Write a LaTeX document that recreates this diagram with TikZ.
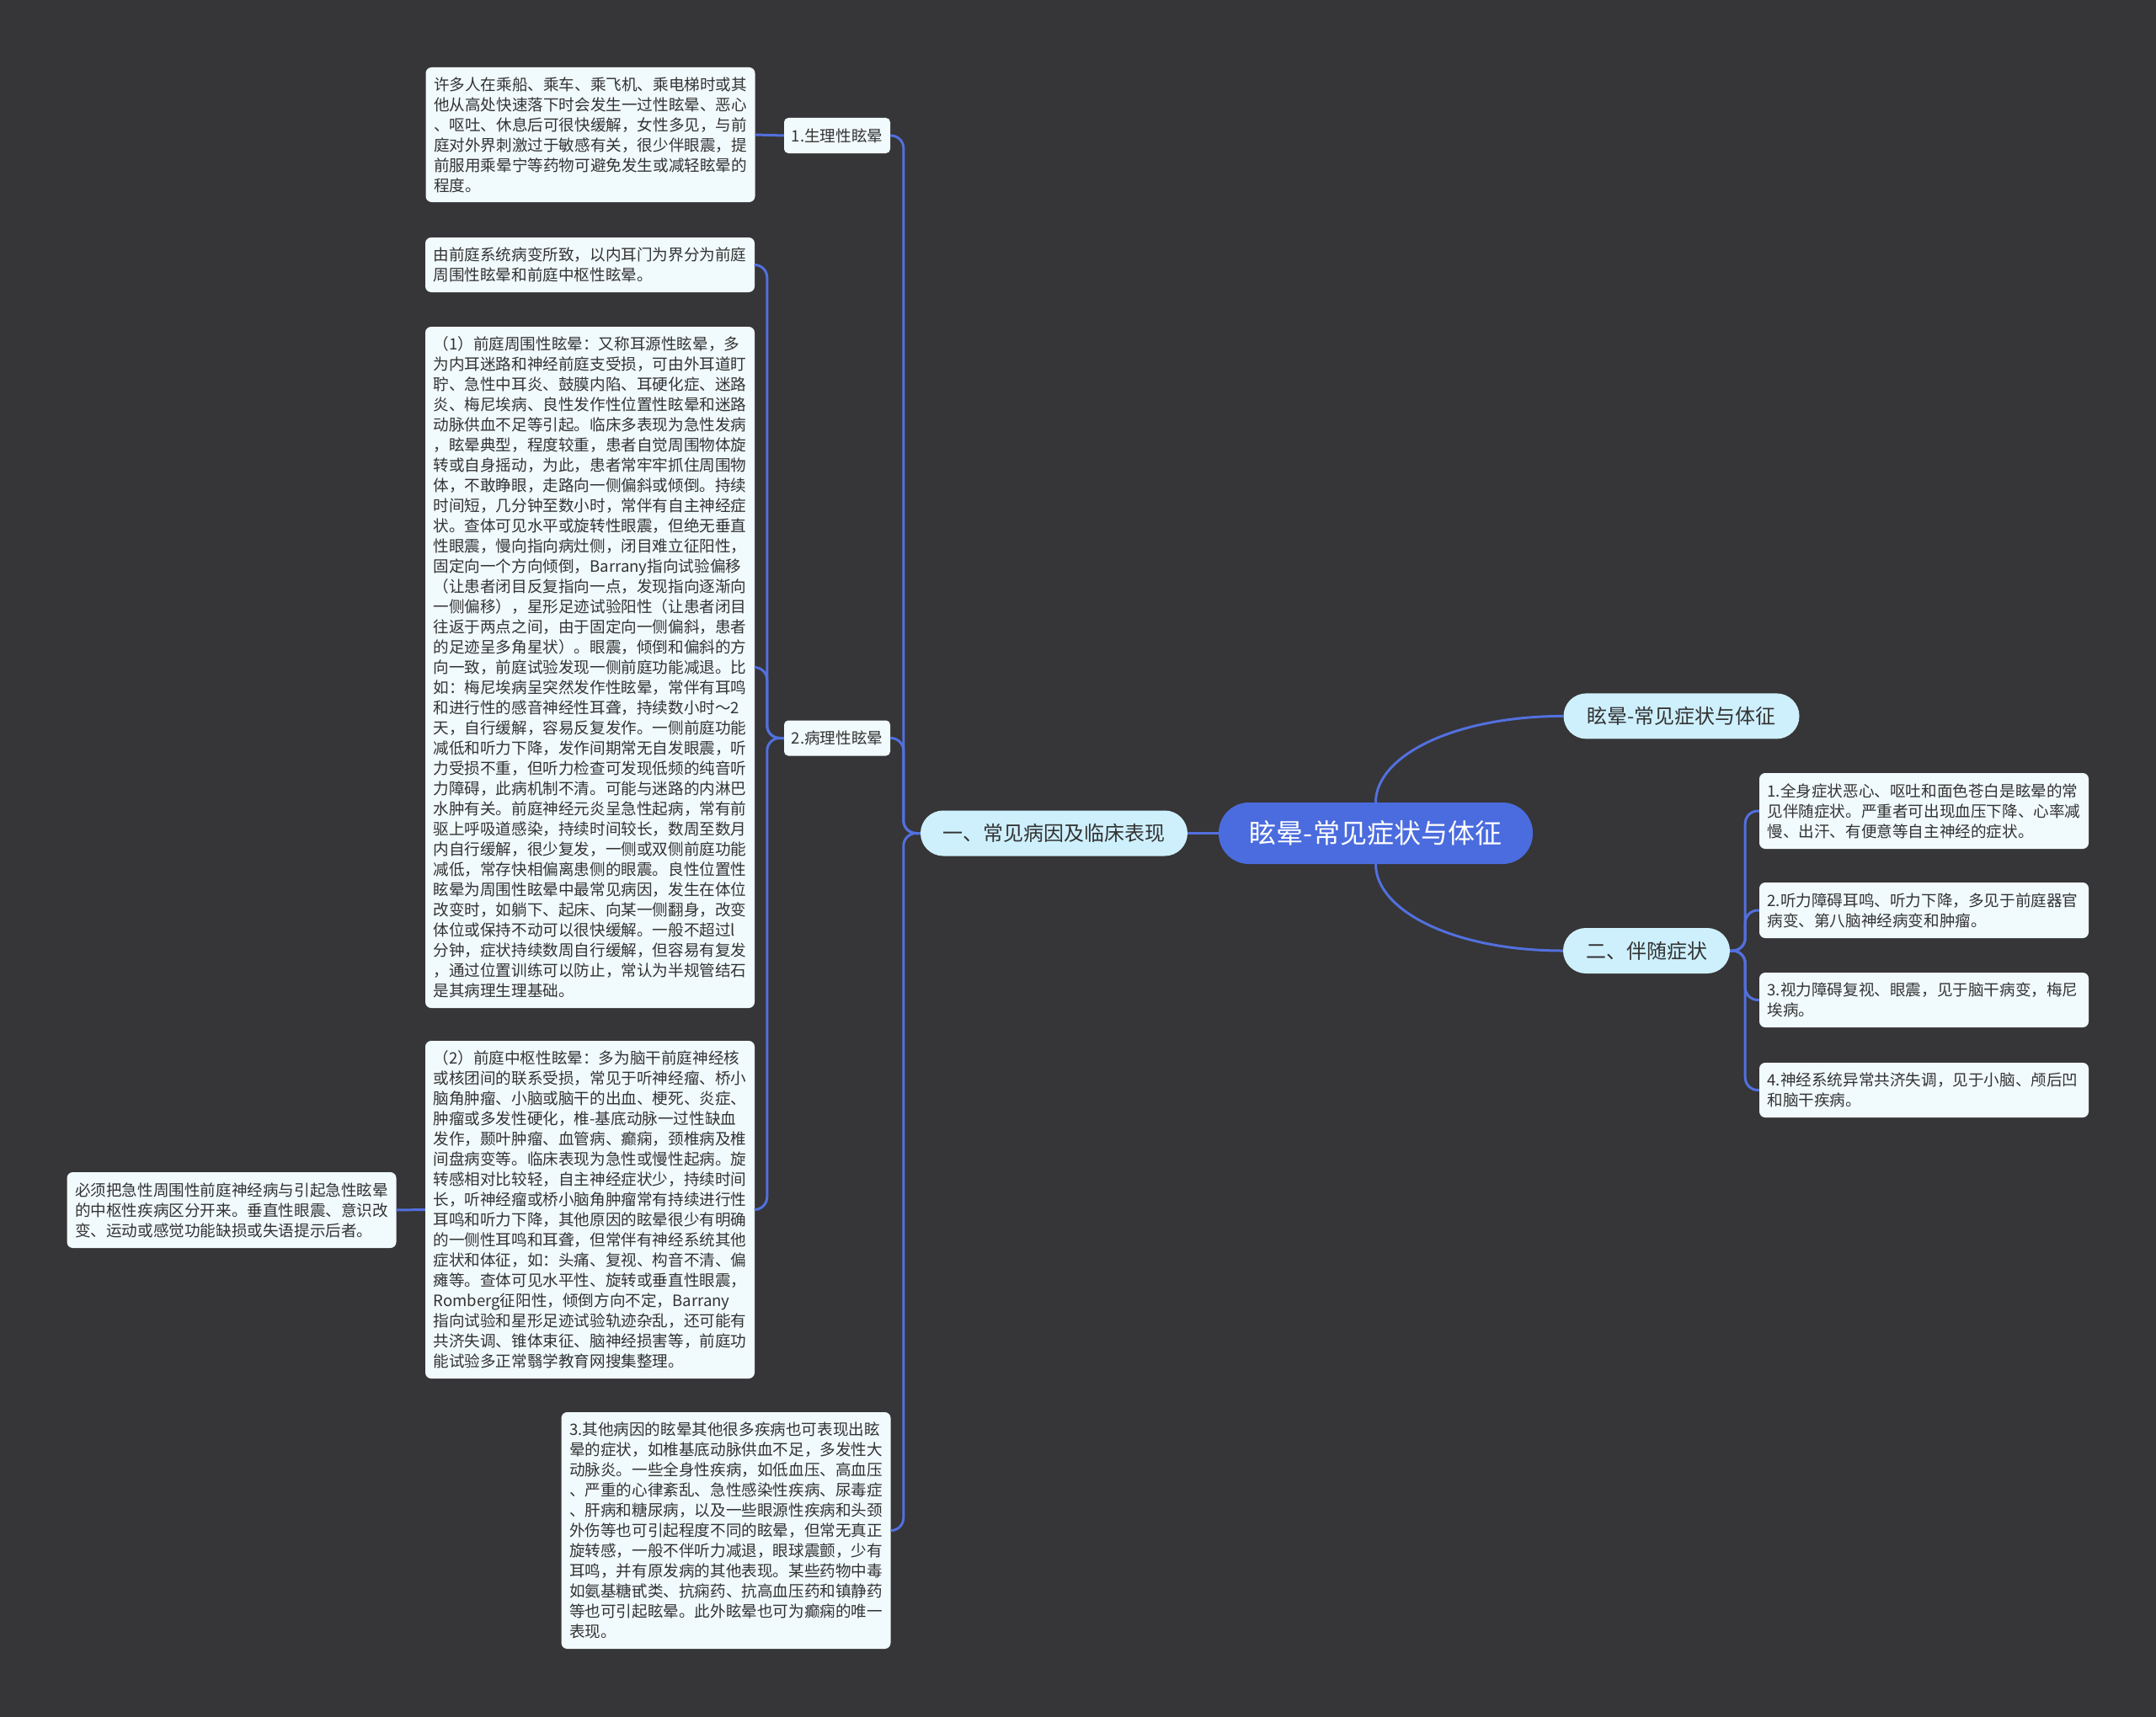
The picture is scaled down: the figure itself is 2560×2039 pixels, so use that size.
\documentclass[tikz,border=0pt]{standalone}
\usepackage{fontspec}
\setmainfont{Noto Sans CJK SC}
\usetikzlibrary{calc}
\definecolor{bg}{RGB}{54,53,55}
\definecolor{mainblue}{RGB}{75,108,222}
\definecolor{lineblue}{RGB}{82,112,222}
\definecolor{lvlone}{RGB}{206,240,253}
\definecolor{boxfill}{RGB}{241,250,253}
\definecolor{txt}{RGB}{51,51,51}
\hyphenpenalty=10000
\exhyphenpenalty=10000
\begin{document}
\begin{tikzpicture}[x=1pt,y=1pt,
  rootnode/.style={fill=mainblue, text=white, rounded corners=36pt, minimum width=373pt, minimum height=73pt, inner sep=0pt, font=\fontsize{32}{32}\selectfont},
  lvlnode/.style={fill=lvlone, text=txt, rounded corners=27pt, minimum height=54pt, inner sep=0pt, font=\fontsize{24}{24}\selectfont},
  lblnode/.style={fill=boxfill, text=txt, rounded corners=5pt, minimum width=126pt, minimum height=42pt, inner sep=0pt, font=\fontsize{18.6}{24}\selectfont},
  tbox/.style={fill=boxfill, text=txt, rounded corners=7pt, align=left, text width=372pt, inner xsep=9pt, inner ysep=0pt, minimum width=391pt, font=\fontsize{18.6}{24}\selectfont},
  conn/.style={draw=lineblue, line width=3pt},
  elbow/.style={draw=lineblue, line width=3pt, rounded corners=15pt},
  lconn/.style={to path={-- ++(-20,0) |- (\tikztotarget)}},
  rconn/.style={to path={-- ++(18,0) |- (\tikztotarget)}}
]
\fill[bg] (0,0) rectangle (2560,-2039);
\useasboundingbox (0,0) rectangle (2560,-2039);

% main nodes
\node[rootnode] (root) at (1633.5,-989.5) {眩晕-常见症状与体征};
\node[lvlnode, minimum width=317pt] (n1) at (1251.5,-989.5) {一、常见病因及临床表现};
\node[lvlnode, minimum width=280pt] (topr) at (1996.5,-850.4) {眩晕-常见症状与体征};
\node[lvlnode, minimum width=198pt] (n2) at (1955,-1129) {二、伴随症状};

\node[lblnode] (a1) at (994,-161) {1.生理性眩晕};
\node[lblnode] (a2) at (994,-876.5) {2.病理性眩晕};

% left text boxes
\node[tbox, minimum height=160pt] (t1) at (701,-160) {许多人在乘船、乘车、乘飞机、乘电梯时或其\\
他从高处快速落下时会发生一过性眩晕、恶心\\
、呕吐、休息后可很快缓解，女性多见，与前\\
庭对外界刺激过于敏感有关，很少伴眼震，提\\
前服用乘晕宁等药物可避免发生或减轻眩晕的\\
程度。};

\node[tbox, minimum height=65pt] (t2) at (700.5,-314.5) {由前庭系统病变所致，以内耳门为界分为前庭\\
周围性眩晕和前庭中枢性眩晕。};

\node[tbox, minimum height=809pt] (t3) at (700.5,-792.5) {（1）前庭周围性眩晕：又称耳源性眩晕，多\\
为内耳迷路和神经前庭支受损，可由外耳道盯\\
聍、急性中耳炎、鼓膜内陷、耳硬化症、迷路\\
炎、梅尼埃病、良性发作性位置性眩晕和迷路\\
动脉供血不足等引起。临床多表现为急性发病\\
，眩晕典型，程度较重，患者自觉周围物体旋\\
转或自身摇动，为此，患者常牢牢抓住周围物\\
体，不敢睁眼，走路向一侧偏斜或倾倒。持续\\
时间短，几分钟至数小时，常伴有自主神经症\\
状。查体可见水平或旋转性眼震，但绝无垂直\\
性眼震，慢向指向病灶侧，闭目难立征阳性，\\
固定向一个方向倾倒，Barrany指向试验偏移\\
（让患者闭目反复指向一点，发现指向逐渐向\\
一侧偏移），星形足迹试验阳性（让患者闭目\\
往返于两点之间，由于固定向一侧偏斜，患者\\
的足迹呈多角星状）。眼震，倾倒和偏斜的方\\
向一致，前庭试验发现一侧前庭功能减退。比\\
如：梅尼埃病呈突然发作性眩晕，常伴有耳鸣\\
和进行性的感音神经性耳聋，持续数小时～2\\
天，自行缓解，容易反复发作。一侧前庭功能\\
减低和听力下降，发作间期常无自发眼震，听\\
力受损不重，但听力检查可发现低频的纯音听\\
力障碍，此病机制不清。可能与迷路的内淋巴\\
水肿有关。前庭神经元炎呈急性起病，常有前\\
驱上呼吸道感染，持续时间较长，数周至数月\\
内自行缓解，很少复发，一侧或双侧前庭功能\\
减低，常存快相偏离患侧的眼震。良性位置性\\
眩晕为周围性眩晕中最常见病因，发生在体位\\
改变时，如躺下、起床、向某一侧翻身，改变\\
体位或保持不动可以很快缓解。一般不超过l\\
分钟，症状持续数周自行缓解，但容易有复发\\
，通过位置训练可以防止，常认为半规管结石\\
是其病理生理基础。};

\node[tbox, minimum height=401pt] (t4) at (700.5,-1436.5) {（2）前庭中枢性眩晕：多为脑干前庭神经核\\
或核团间的联系受损，常见于听神经瘤、桥小\\
脑角肿瘤、小脑或脑干的出血、梗死、炎症、\\
肿瘤或多发性硬化，椎-基底动脉一过性缺血\\
发作，颞叶肿瘤、血管病、癫痫，颈椎病及椎\\
间盘病变等。临床表现为急性或慢性起病。旋\\
转感相对比较轻，自主神经症状少，持续时间\\
长，听神经瘤或桥小脑角肿瘤常有持续进行性\\
耳鸣和听力下降，其他原因的眩晕很少有明确\\
的一侧性耳鸣和耳聋，但常伴有神经系统其他\\
症状和体征，如：头痛、复视、构音不清、偏\\
瘫等。查体可见水平性、旋转或垂直性眼震，\\
Romberg征阳性，倾倒方向不定，Barrany\\
指向试验和星形足迹试验轨迹杂乱，还可能有\\
共济失调、锥体束征、脑神经损害等，前庭功\\
能试验多正常翳学教育网搜集整理。};

\node[tbox, minimum height=90pt] (t5) at (275,-1437) {必须把急性周围性前庭神经病与引起急性眩晕\\
的中枢性疾病区分开来。垂直性眼震、意识改\\
变、运动或感觉功能缺损或失语提示后者。};

\node[tbox, minimum height=281pt] (t6) at (862,-1817.5) {3.其他病因的眩晕其他很多疾病也可表现出眩\\
晕的症状，如椎基底动脉供血不足，多发性大\\
动脉炎。一些全身性疾病，如低血压、高血压\\
、严重的心律紊乱、急性感染性疾病、尿毒症\\
、肝病和糖尿病，以及一些眼源性疾病和头颈\\
外伤等也可引起程度不同的眩晕，但常无真正\\
旋转感，一般不伴听力减退，眼球震颤，少有\\
耳鸣，并有原发病的其他表现。某些药物中毒\\
如氨基糖甙类、抗痫药、抗高血压药和镇静药\\
等也可引起眩晕。此外眩晕也可为癫痫的唯一\\
表现。};

% right text boxes
\node[tbox, minimum height=90pt] (r1) at (2284.5,-963) {1.全身症状恶心、呕吐和面色苍白是眩晕的常\\
见伴随症状。严重者可出现血压下降、心率减\\
慢、出汗、有便意等自主神经的症状。};
\node[tbox, minimum height=66pt] (r2) at (2284.5,-1081) {2.听力障碍耳鸣、听力下降，多见于前庭器官\\
病变、第八脑神经病变和肿瘤。};
\node[tbox, minimum height=65pt] (r3) at (2284.5,-1187.5) {3.视力障碍复视、眼震，见于脑干病变，梅尼\\
埃病。};
\node[tbox, minimum height=65pt] (r4) at (2284.5,-1294.5) {4.神经系统异常共济失调，见于小脑、颅后凹\\
和脑干疾病。};

% connectors
\draw[conn] (root.west) -- (n1.east);
\draw[conn] (root.north) .. controls +(0,55) and +(-130,0) .. (topr.west);
\draw[conn] (root.south) .. controls +(0,-55) and +(-130,0) .. (n2.west);

\draw[elbow] (n1.west) to[lconn] (a1.east);
\draw[elbow] (n1.west) to[lconn] (a2.east);
\draw[elbow] (n1.west) to[lconn] (t6.east);

\draw[conn] (a1.west) -- (t1.east);
\draw[elbow] (a2.west) to[lconn] (t2.east);
\draw[elbow] (a2.west) to[lconn] (t3.east);
\draw[elbow] (a2.west) to[lconn] (t4.east);
\draw[conn] (t4.west) -- (t5.east);

\draw[elbow] (n2.east) to[rconn] (r1.west);
\draw[elbow] (n2.east) to[rconn] (r2.west);
\draw[elbow] (n2.east) to[rconn] (r3.west);
\draw[elbow] (n2.east) to[rconn] (r4.west);
\end{tikzpicture}
\end{document}
